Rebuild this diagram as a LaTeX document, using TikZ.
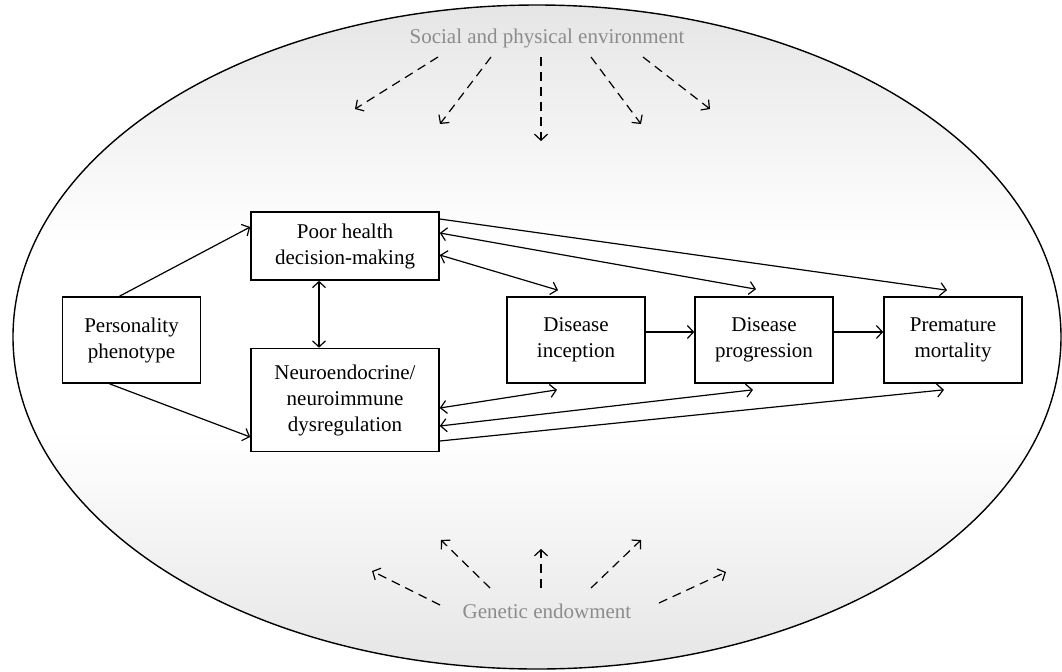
\documentclass[tikz,border=0pt]{standalone}
\usepackage{fontspec}
\setmainfont{Liberation Serif}
\usetikzlibrary{arrows.meta}
\pgfdeclareverticalshading{envshade}{100bp}{color(0bp)=(gray!20); color(25bp)=(gray!20); color(43bp)=(white); color(57bp)=(white); color(75bp)=(gray!20); color(100bp)=(gray!20)}

\begin{document}
\begin{tikzpicture}[x=0.5pt, y=-0.5pt,
    box/.style={draw, line width=0.8pt, fill=white, align=center, inner sep=2pt, font=\fontsize{10.5pt}{13pt}\selectfont},
    smallbox/.style={box, minimum width=69pt, minimum height=43pt},
    wide/.style={box, minimum width=94pt},
    link/.style={line width=0.6pt, -{Straight Barb[length=3pt,width=6.5pt]}},
    both/.style={link, {Straight Barb[length=3pt,width=6.5pt]}-{Straight Barb[length=3pt,width=6.5pt]}},
    envarrow/.style={link, dash pattern=on 4.5pt off 3pt},
    envtext/.style={text=gray!90, font=\fontsize{10.5pt}{13pt}\selectfont}]
  \useasboundingbox (0,0) rectangle (1062,671);
  \draw[line width=0.7pt, shading=envshade] (537,337) ellipse [x radius=262pt, y radius=166pt];

  \node[envtext] (env) at (547,38) {Social and physical environment};
  \node[envtext] (gen) at (547,611) {Genetic endowment};
  \foreach \n/\sx/\tx/\ty in {1/438/355/109, 2/491/440/124, 3/541/541/141, 4/591/641/124, 5/643/710/109}
    \draw[envarrow] (\sx,57) coordinate (es\n) -- (\tx,\ty) coordinate (et\n);
  \foreach \n/\sx/\sy/\tx/\ty in {1/440/605/372/571, 2/490/588/441/540, 3/541/588/541/549, 4/591/588/641/540, 5/659/603/726/572}
    \draw[envarrow] (\sx,\sy) coordinate (gs\n) -- (\tx,\ty) coordinate (gt\n);

  \node[smallbox] (pers) at (131.5,340) {Personality\\phenotype};
  \node[wide, minimum height=34pt] (poor) at (345,246) {Poor health\\decision-making};
  \node[wide, minimum height=51.5pt] (neuro) at (345,400) {Neuroendocrine/\\neuroimmune\\dysregulation};
  \node[smallbox] (incep) at (576,340) {Disease\\inception};
  \node[smallbox] (prog) at (764,340) {Disease\\progression};
  \node[smallbox] (mort) at (953,340) {Premature\\mortality};

  \draw[link] ([xshift=-6pt]pers.north) -- ([yshift=9.5pt]poor.west);
  \draw[link] ([xshift=-11pt]pers.south) -- ([yshift=-18.5pt]neuro.west);
  \draw[both] ([xshift=-13pt]poor.south) -- ([xshift=-13pt]neuro.north);
  \draw[link] ([yshift=13.5pt]poor.east) -- ([xshift=-3pt,yshift=3pt]mort.north);
  \draw[both] ([yshift=6.5pt]poor.east) -- ([xshift=-4pt,yshift=3.5pt]prog.north);
  \draw[both] ([yshift=-4.5pt]poor.east) -- ([xshift=-9pt,yshift=3pt]incep.north);
  \draw[both] ([yshift=-4pt]neuro.east) -- ([xshift=-9.5pt,yshift=-3pt]incep.south);
  \draw[both] ([yshift=-13pt]neuro.east) -- ([xshift=-5.5pt,yshift=-3pt]prog.south);
  \draw[link] ([yshift=-20.5pt]neuro.east) -- ([xshift=-4.5pt,yshift=-3pt]mort.south);
  \draw[link] ([yshift=4pt]incep.east) -- ([yshift=4pt]prog.west);
  \draw[link] ([yshift=4pt]prog.east) -- ([yshift=4pt]mort.west);
\end{tikzpicture}
\end{document}
